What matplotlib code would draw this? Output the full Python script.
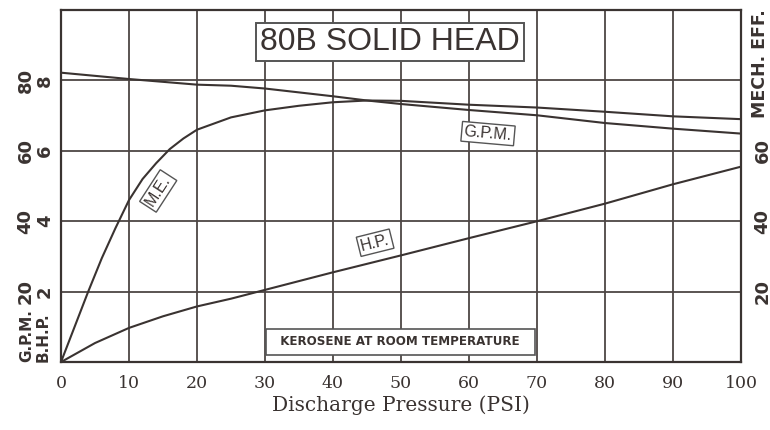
import matplotlib
matplotlib.use("Agg")
import matplotlib.pyplot as plt

# ---- data ----
pressure_gpm = [0, 10, 20, 25, 30, 35, 40, 45, 50, 60, 70, 80, 90, 100]
gpm = [82.2, 80.4, 78.8, 78.5, 77.7, 76.6, 75.5, 74.3, 73.3, 71.6, 70.1, 67.9, 66.3, 64.9]

pressure_me = [0, 2, 4, 6, 8, 10, 12, 14, 16, 18, 20, 25, 30, 35, 40, 45, 50, 60, 70, 80, 90, 100]
mech_eff = [0, 10, 20, 29.5, 38, 46, 52, 56.5, 60.5, 63.5, 66, 69.5, 71.5, 72.8, 73.8, 74.3, 74.2,
            73.1, 72.3, 71.1, 69.8, 69.0]

pressure_hp = [0, 5, 10, 15, 20, 25, 30, 40, 50, 60, 70, 80, 90, 100]
bhp = [0, 0.54, 0.97, 1.3, 1.58, 1.8, 2.05, 2.55, 3.03, 3.52, 4.0, 4.5, 5.05, 5.55]

x_ticks = [0, 10, 20, 30, 40, 50, 60, 70, 80, 90, 100]
gpm_ticks = [20, 40, 60, 80]
bhp_ticks = [2, 4, 6, 8]
eff_ticks = [20, 40, 60]

title = "80B SOLID HEAD"
note = "KEROSENE AT ROOM TEMPERATURE"

# ---- style ----
ink = "#3a3331"
grid_c = "#4d4644"

fig = plt.figure(figsize=(7.7, 4.3), dpi=100)
ax = fig.add_axes([0.0792, 0.158, 0.8831, 0.8187])
ax.set_xlim(0, 100)
ax.set_ylim(0, 100)

ax.set_xticks(x_ticks)
ax.set_yticks(gpm_ticks + [100])
ax.grid(True, color=grid_c, lw=1.3)
ax.set_axisbelow(True)
for s in ax.spines.values():
    s.set_color(ink)
    s.set_linewidth(1.6)

ax.tick_params(axis="both", length=0, colors=ink)
ax.set_xticklabels([str(v) for v in x_ticks], fontfamily="DejaVu Serif",
                   fontsize=12.5, color=ink)
ax.tick_params(axis="x", pad=9)
ax.set_yticklabels([str(v) for v in gpm_ticks] + [""], rotation=90, va="center",
                   fontfamily="DejaVu Sans", fontweight="bold", fontsize=13, color=ink)
ax.tick_params(axis="y", pad=19)

ax.set_xlabel("Discharge Pressure (PSI)", fontfamily="DejaVu Serif", fontsize=14.5,
              color=ink, labelpad=3)

# curves
ax.plot(pressure_gpm, gpm, color=ink, lw=1.5)
ax.plot(pressure_me, mech_eff, color=ink, lw=1.5)

# BHP axis (0-10) drawn with ticks on the left
axb = ax.twinx()
axb.set_ylim(0, 10)
axb.plot(pressure_hp, bhp, color=ink, lw=1.5)
axb.yaxis.set_ticks_position("left")
axb.yaxis.set_label_position("left")
axb.set_yticks(bhp_ticks)
axb.set_yticklabels([str(v) for v in bhp_ticks], rotation=90, va="center",
                    fontfamily="DejaVu Sans", fontweight="bold", fontsize=13, color=ink)
axb.tick_params(axis="y", length=0, pad=5)
for s in axb.spines.values():
    s.set_visible(False)

# right axis: mechanical efficiency
axr = ax.secondary_yaxis("right")
axr.set_yticks(eff_ticks)
axr.set_yticklabels([str(v) for v in eff_ticks], rotation=90, va="center",
                    fontfamily="DejaVu Sans", fontweight="bold", fontsize=13, color=ink)
axr.tick_params(axis="y", length=0, pad=9)
axr.spines["right"].set_visible(False)

# axis unit labels
ax.annotate("G.P.M.", xy=(0, 0), xycoords=("axes fraction", "data"),
            xytext=(-34, 0), textcoords="offset pixels", rotation=90,
            ha="center", va="bottom", fontfamily="DejaVu Sans", fontweight="bold",
            fontsize=11, color=ink)
ax.annotate("B.H.P.", xy=(0, 0), xycoords=("axes fraction", "data"),
            xytext=(-18, 0), textcoords="offset pixels", rotation=90,
            ha="center", va="bottom", fontfamily="DejaVu Sans", fontweight="bold",
            fontsize=11, color=ink)
ax.annotate("MECH. EFF.", xy=(1, 84.8), xycoords=("axes fraction", "data"),
            xytext=(19, 0), textcoords="offset pixels", rotation=90,
            ha="center", va="center", fontfamily="DejaVu Sans", fontweight="bold",
            fontsize=12.5, color=ink)

# boxed labels
box = dict(boxstyle="square,pad=0.12", fc="white", ec="#555", lw=1.4)
ax.text(48.4, 91, title, ha="center", va="center", fontfamily="Liberation Sans",
        fontsize=23, color=ink, bbox=box, zorder=5)
ax.text(62.8, 64.9, "G.P.M.", ha="center", va="center", rotation=-5,
        fontfamily="Liberation Sans", fontsize=11.5, color=ink,
        bbox=dict(boxstyle="square,pad=0.15", fc="white", ec="#555", lw=1.0), zorder=5)
ax.text(14.3, 48.6, "M.E.", ha="center", va="center", rotation=57,
        fontfamily="Liberation Sans", fontsize=11.5, color=ink,
        bbox=dict(boxstyle="square,pad=0.15", fc="white", ec="#555", lw=1.0), zorder=5)
ax.text(46.2, 33.9, "H.P.", ha="center", va="center", rotation=14,
        fontfamily="Liberation Sans", fontsize=11.5, color=ink,
        bbox=dict(boxstyle="square,pad=0.15", fc="white", ec="#555", lw=1.0), zorder=5)
ax.text(49.9, 5.7, "  " + note + "  ", ha="center", va="center",
        fontfamily="DejaVu Sans", fontweight="bold", fontsize=8.6, color=ink,
        bbox=dict(boxstyle="square,pad=0.55", fc="white", ec="#555", lw=1.2), zorder=5)

fig.savefig("out.png", dpi=100)
